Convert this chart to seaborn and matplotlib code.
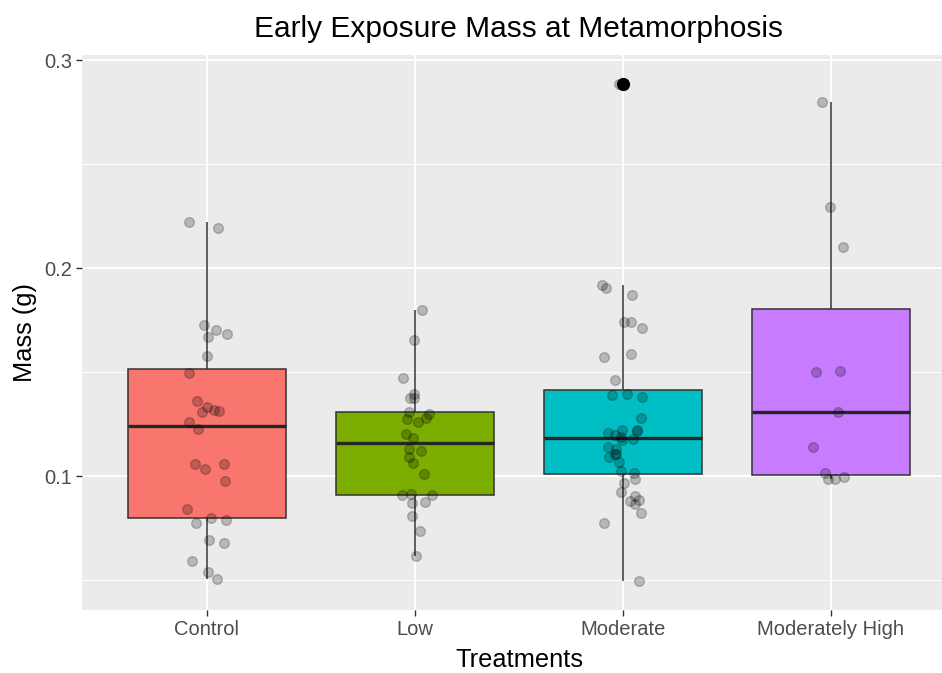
import numpy as np
import pandas as pd
import matplotlib
matplotlib.use("Agg")
import matplotlib.pyplot as plt
import seaborn as sns
from matplotlib.ticker import FixedLocator

# ---------------- data ----------------
treatments = ["Control", "Low", "Moderate", "Moderately High"]
box_colors = ["#F8766D", "#7CAE00", "#00BFC4", "#C77CFF"]

control_mass = [0.2220, 0.2193, 0.1727, 0.1703, 0.1682, 0.1667, 0.1577, 0.1494,
                0.1360, 0.1333, 0.1317, 0.1312, 0.1310, 0.1260, 0.1225, 0.1059,
                0.1059, 0.1035, 0.0976, 0.0839, 0.0800, 0.0790, 0.0775, 0.0694,
                0.0678, 0.0593, 0.0537, 0.0505]
low_mass = [0.1800, 0.1656, 0.1473, 0.1392, 0.1376, 0.1376, 0.1310, 0.1300,
            0.1278, 0.1275, 0.1262, 0.1202, 0.1183, 0.1130, 0.1122, 0.1090,
            0.1063, 0.1008, 0.0913, 0.0910, 0.0910, 0.0873, 0.0868, 0.0810,
            0.0735, 0.0615]
moderate_mass = [0.2887, 0.1920, 0.1904, 0.1870, 0.1738, 0.1738, 0.1713, 0.1588,
                 0.1571, 0.1463, 0.1395, 0.1389, 0.1380, 0.1281, 0.1223, 0.1219,
                 0.1214, 0.1206, 0.1198, 0.1189, 0.1180, 0.1173, 0.1140, 0.1131,
                 0.1106, 0.1106, 0.1090, 0.1065, 0.1023, 0.1015, 0.0987, 0.0965,
                 0.0924, 0.0904, 0.0887, 0.0882, 0.0865, 0.0824, 0.0774, 0.0495]
mod_high_mass = [0.2800, 0.2295, 0.2103, 0.1503, 0.1498, 0.1310, 0.1141, 0.1015,
                 0.0995, 0.0986, 0.0986]

title = "Early Exposure Mass at Metamorphosis"
x_title = "Treatments"
y_title = "Mass (g)"
y_major = [0.1, 0.2, 0.3]
y_major_labels = ["0.1", "0.2", "0.3"]
y_minor = [0.05, 0.15, 0.25]

groups = [control_mass, low_mass, moderate_mass, mod_high_mass]
df = pd.DataFrame({
    "Treatment": np.repeat(treatments, [len(g) for g in groups]),
    "Mass": np.concatenate(groups),
})

# ---------------- figure ----------------
sns.set_theme(style="white")
plt.rcParams["font.family"] = ["Liberation Sans", "DejaVu Sans"]

W, H = 942, 673
fig = plt.figure(figsize=(W / 100, H / 100), dpi=100)
left, right, top, bottom = 82, 942, 55, 610
ax = fig.add_axes([left / W, 1 - bottom / H, (right - left) / W, (bottom - top) / H])
ax.set_facecolor("#EBEBEB")

sns.boxplot(data=df, x="Treatment", y="Mass", hue="Treatment", order=treatments,
            hue_order=treatments, palette=box_colors, saturation=1, width=0.76,
            linecolor="#333333", linewidth=1.1, whis=1.5, showcaps=False,
            legend=False, ax=ax,
            medianprops=dict(color="#262626", linewidth=2.4),
            flierprops=dict(marker="o", markerfacecolor="black",
                            markeredgecolor="black", markersize=8.5))

np.random.seed(7)
sns.stripplot(data=df, x="Treatment", y="Mass", order=treatments, color="black",
              alpha=0.22, size=7, jitter=0.1, linewidth=1, edgecolor="black",
              ax=ax, zorder=4)

ax.set_xlim(-0.6, 3 + (942 - 831) / 208)
ax.set_ylim(0.1 - 134 / 2080, 0.1 + 421 / 2080)

ax.yaxis.set_major_locator(FixedLocator(y_major))
ax.set_yticklabels(y_major_labels)
ax.yaxis.set_minor_locator(FixedLocator(y_minor))
ax.set_axisbelow(True)
ax.grid(which="major", color="white", linewidth=1.4)
ax.grid(which="minor", axis="y", color="white", linewidth=0.7)
for s in ax.spines.values():
    s.set_visible(False)
ax.tick_params(axis="both", which="major", length=4, width=1, color="#333333",
               labelcolor="#4D4D4D", labelsize=14.5, pad=3,
               bottom=True, left=True)
ax.tick_params(axis="y", which="minor", length=0)
ax.set_xlabel("")
ax.set_ylabel("")

panel_cx = (left + 956) / 2
fig.text(panel_cx / W, 1 - 29 / H, title, ha="center", va="center",
         fontsize=21.5, color="black")
fig.text(panel_cx / W, 1 - 660 / H, x_title, ha="center", va="center",
         fontsize=18.3, color="black")
fig.text(25 / W, 1 - ((top + bottom) / 2) / H, y_title, ha="center", va="center",
         rotation=90, fontsize=18.3, color="black")

fig.savefig("out.png", dpi=100, facecolor="white")
